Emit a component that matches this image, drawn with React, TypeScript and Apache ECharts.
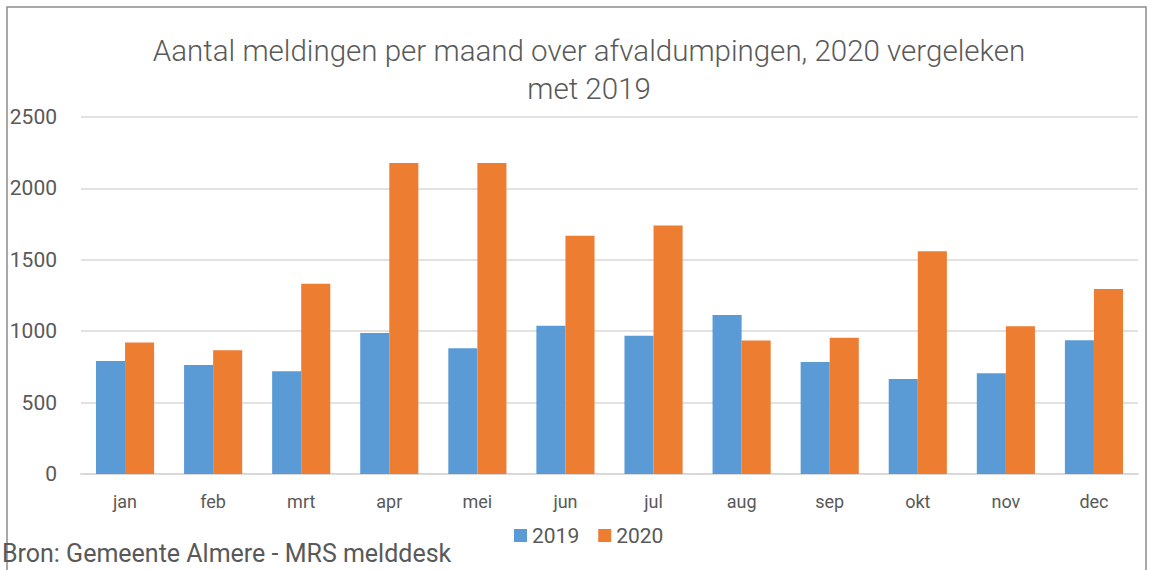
import React, { useEffect, useRef } from "react";
import * as echarts from "echarts";

const months = ["jan", "feb", "mrt", "apr", "mei", "jun", "jul", "aug", "sep", "okt", "nov", "dec"];
const values2019 = [792, 763, 720, 988, 880, 1038, 968, 1113, 785, 665, 705, 937];
const values2020 = [920, 867, 1333, 2178, 2178, 1668, 1740, 935, 955, 1560, 1035, 1295];
const yTicks = { min: 0, max: 2500, interval: 500 };
const titleText = "Aantal meldingen per maand over afvaldumpingen, 2020 vergeleken\nmet 2019";
const sourceText = "Bron: Gemeente Almere - MRS melddesk";

const FONT = "Roboto, 'Noto Sans', sans-serif";

export default function App() {
  const ref = useRef<HTMLDivElement>(null);
  useEffect(() => {
    if (!ref.current) return;
    const chart = echarts.init(ref.current, undefined, { renderer: "svg" });
    chart.setOption({
      animation: false,
      backgroundColor: "#ffffff",
      textStyle: { fontFamily: FONT },
      title: {
        text: titleText,
        left: 584,
        textAlign: "center",
        top: 27,
        textStyle: { fontFamily: FONT, fontSize: 29.5, fontWeight: 300, color: "#595959", lineHeight: 38 },
      },
      legend: {
        data: ["2019", "2020"],
        left: 509,
        top: 520,
        itemWidth: 13,
        itemHeight: 13,
        itemGap: 19,
        icon: "rect",
        textStyle: { fontFamily: FONT, fontSize: 21, color: "#595959" },
      },
      grid: { left: 81, right: 11, top: 117, bottom: 96, containLabel: false },
      xAxis: {
        type: "category",
        data: months,
        axisLine: { lineStyle: { color: "#d9d9d9", width: 2 } },
        axisTick: { show: false },
        axisLabel: { fontFamily: FONT, fontSize: 18, color: "#595959", margin: 18 },
      },
      yAxis: {
        type: "value",
        min: yTicks.min,
        max: yTicks.max,
        interval: yTicks.interval,
        axisLine: { show: false },
        axisTick: { show: false },
        splitLine: { lineStyle: { color: "#d9d9d9", width: 1.5 } },
        axisLabel: { fontFamily: FONT, fontSize: 21, color: "#595959", margin: 24, formatter: (v: number) => String(v) },
      },
      series: [
        {
          name: "2019",
          type: "bar",
          data: values2019,
          itemStyle: { color: "#5B9BD5" },
          barGap: "0%",
          barCategoryGap: "34%",
        },
        {
          name: "2020",
          type: "bar",
          data: values2020,
          itemStyle: { color: "#ED7D31" },
          barGap: "0%",
          barCategoryGap: "34%",
        },
      ],
      graphic: [
        {
          type: "rect",
          shape: { x: 7, y: 7, width: 1139, height: 700 },
          style: { fill: "none", stroke: "#8c8c8c", lineWidth: 1.5 },
          silent: true,
        },
        {
          type: "text",
          left: 2,
          top: 541,
          style: { text: sourceText, fontFamily: FONT, fontSize: 25, fill: "#595959" },
        },
      ],
    });
    return () => chart.dispose();
  }, []);
  return <div ref={ref} style={{ position: "fixed", left: 0, top: 0, width: 1149, height: 570 }} />;
}
